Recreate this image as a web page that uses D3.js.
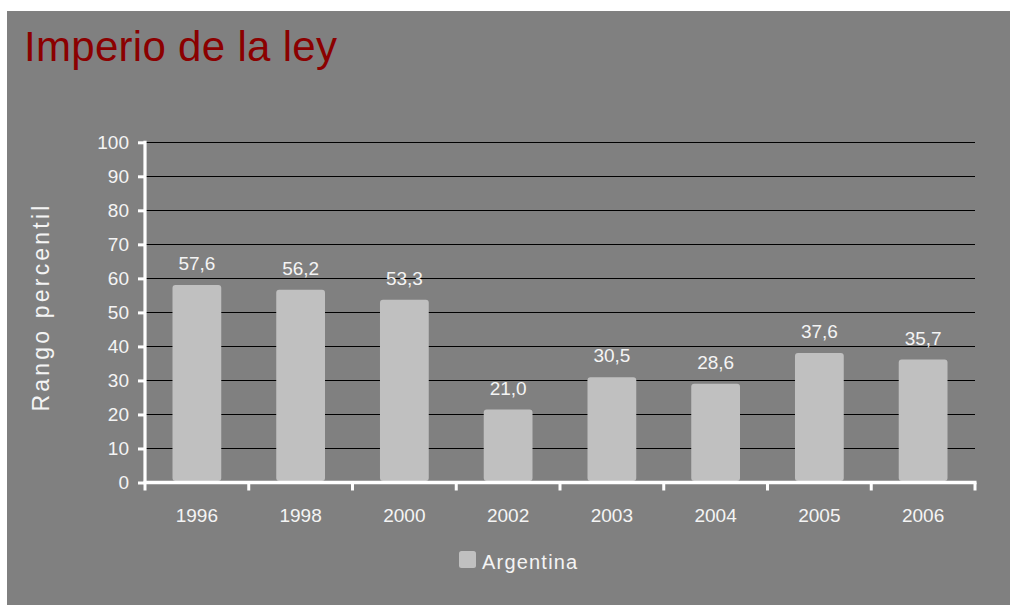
<!DOCTYPE html>
<html>
<head>
<meta charset="utf-8">
<script src="https://cdn.jsdelivr.net/npm/d3@7"></script>
<style>
html,body{margin:0;padding:0;background:#ffffff;}
svg{display:block;font-family:"Liberation Sans",Arial,sans-serif;}
</style>
</head>
<body>
<svg id="chart" width="1010" height="605"></svg>
<script>
const categories = ["1996","1998","2000","2002","2003","2004","2005","2006"];
const values = [57.6, 56.2, 53.3, 21.0, 30.5, 28.6, 37.6, 35.7];
const valueLabels = ["57,6","56,2","53,3","21,0","30,5","28,6","37,6","35,7"];
const yTicks = [0,10,20,30,40,50,60,70,80,90,100];
const seriesName = "Argentina";
const titleText = "Imperio de la ley";
const yTitle = "Rango percentil";

(function(){
const svg = d3.select("#chart");
const W = 1010, H = 605;
const textColor = "#f4f4f4";

svg.append("rect").attr("x",7).attr("y",11).attr("width",W-7).attr("height",H-11).attr("fill","#808080");

svg.append("text").attr("x",24).attr("y",61)
  .attr("fill","#8b0000").attr("font-size",42).attr("letter-spacing",0.3)
  .text(titleText);

const pL = 145, pR = 975, pT = 142.3, pB = 482.5;
const x = d3.scaleBand().domain(categories).range([pL,pR]).paddingInner(0.53).paddingOuter(0.265);
const y = d3.scaleLinear().domain([0,100]).range([pB,pT]);

// gridlines
svg.append("g").selectAll("line").data(yTicks.filter(d=>d>0)).join("line")
  .attr("x1",pL).attr("x2",pR)
  .attr("y1",d=>Math.round(y(d))+0.5).attr("y2",d=>Math.round(y(d))+0.5)
  .attr("stroke","#000").attr("stroke-width",1);

// bars
svg.append("g").selectAll("rect").data(values).join("rect")
  .attr("x",(d,i)=>x(categories[i]))
  .attr("y",d=>y(d)-1.5)
  .attr("width",x.bandwidth())
  .attr("height",d=>pB-y(d))
  .attr("rx",3).attr("ry",3)
  .attr("fill","#c0c0c0");

// value labels
svg.append("g").selectAll("text").data(values).join("text")
  .attr("x",(d,i)=>x(categories[i])+x.bandwidth()/2)
  .attr("y",d=>y(d)-16.5)
  .attr("text-anchor","middle").attr("fill",textColor).attr("font-size",19)
  .text((d,i)=>valueLabels[i]);

// y axis
const yAxis = svg.append("g").attr("transform",`translate(${pL},0)`)
  .call(d3.axisLeft(y).tickValues(yTicks).tickSize(7).tickPadding(9).tickFormat(d3.format("d")));
yAxis.select(".domain").remove();
yAxis.selectAll(".tick line").attr("stroke","#fff").attr("stroke-width",3);
yAxis.selectAll(".tick text").attr("fill",textColor).attr("font-size",19)
  .attr("font-family","'Liberation Sans',Arial,sans-serif");
svg.append("line").attr("x1",pL).attr("x2",pL).attr("y1",pT-1.5).attr("y2",pB+1.5)
  .attr("stroke","#fff").attr("stroke-width",3.2);

// x axis
svg.append("line").attr("x1",pL-1.5).attr("x2",pR+1.5).attr("y1",pB).attr("y2",pB)
  .attr("stroke","#fff").attr("stroke-width",3.5);
const bounds = categories.map(c=>x(c)+x.bandwidth()/2-x.step()/2).concat([pR]);
svg.append("g").selectAll("line").data(bounds).join("line")
  .attr("x1",d=>d).attr("x2",d=>d).attr("y1",pB).attr("y2",pB+8)
  .attr("stroke","#fff").attr("stroke-width",3);
svg.append("g").selectAll("text").data(categories).join("text")
  .attr("x",d=>x(d)+x.bandwidth()/2).attr("y",522)
  .attr("text-anchor","middle").attr("fill",textColor).attr("font-size",19)
  .text(d=>d);

// y title
svg.append("text").attr("transform","translate(49,307) rotate(-90)")
  .attr("text-anchor","middle").attr("fill",textColor).attr("font-size",23)
  .attr("letter-spacing",3.2).text(yTitle);

// legend
svg.append("rect").attr("x",459).attr("y",551).attr("width",17).attr("height",17).attr("rx",2.5)
  .attr("fill","#c0c0c0");
svg.append("text").attr("x",482).attr("y",569).attr("fill",textColor).attr("font-size",20)
  .attr("letter-spacing",1.2).text(seriesName);
})();
</script>
</body>
</html>
